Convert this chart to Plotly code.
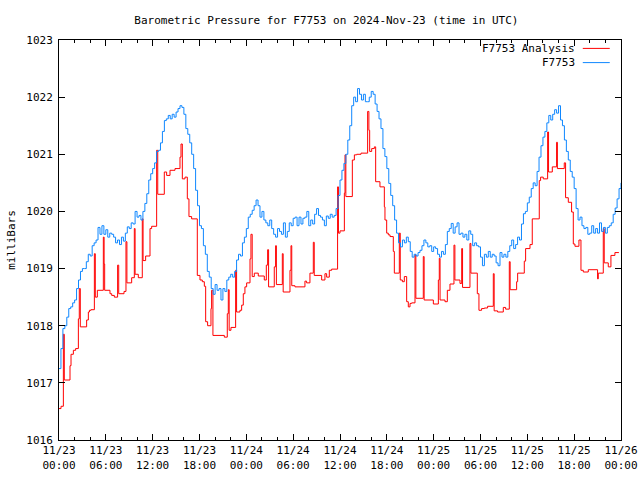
import plotly.graph_objects as go

# ---------------- data ----------------
# hours since 2024-11-23 00:00 UTC, sampled every 15 minutes
blue_hours = [i * 0.25 for i in range(289)]
blue_values = [
    1017.25, 1017.6, 1017.95, 1018.0,
    1018.15, 1018.3, 1018.33, 1018.4,
    1018.45, 1018.65, 1018.8, 1018.95,
    1019.0, 1019.0, 1019.12, 1019.25,
    1019.22, 1019.4, 1019.45, 1019.5,
    1019.72, 1019.6, 1019.75, 1019.6,
    1019.68, 1019.55, 1019.62, 1019.6,
    1019.55, 1019.45, 1019.5, 1019.42,
    1019.55, 1019.48, 1019.62, 1019.73,
    1019.7, 1019.8, 1019.78, 1020.0,
    1019.9, 1019.93, 1019.85, 1020.0,
    1020.14, 1020.31, 1020.55, 1020.66,
    1020.75, 1020.85, 1021.05, 1021.07,
    1021.2, 1021.4, 1021.59, 1021.62,
    1021.68, 1021.62, 1021.7, 1021.65,
    1021.74, 1021.8, 1021.85, 1021.82,
    1021.7, 1021.45, 1021.35, 1021.2,
    1021.0, 1020.75, 1020.37, 1020.1,
    1019.75, 1019.7, 1019.4, 1019.25,
    1018.95, 1018.85, 1018.65, 1018.55,
    1018.72, 1018.62, 1018.65, 1018.45,
    1018.65, 1018.6, 1018.8, 1018.85,
    1018.9, 1018.85, 1018.95, 1019.15,
    1019.25, 1019.22, 1019.45, 1019.55,
    1019.7, 1019.9, 1019.95, 1020.02,
    1020.1, 1020.2, 1020.1, 1019.9,
    1020.0, 1019.85, 1019.8, 1019.75,
    1019.85, 1019.7, 1019.6, 1019.55,
    1019.7, 1019.65, 1019.6, 1019.8,
    1019.55, 1019.65, 1019.8, 1019.75,
    1019.88, 1019.9, 1019.75, 1019.9,
    1019.78, 1019.88, 1019.9, 1020.0,
    1019.75, 1019.85, 1019.78, 1019.95,
    1020.05, 1019.93, 1019.9, 1019.85,
    1019.75, 1019.92, 1019.88, 1019.95,
    1019.9, 1019.93, 1020.05, 1020.28,
    1020.55, 1020.72, 1020.84, 1021.0,
    1021.25, 1021.5, 1021.85, 1022.0,
    1021.92, 1022.15, 1022.05, 1021.95,
    1022.05, 1021.92, 1021.92, 1022.0,
    1022.1, 1022.05, 1021.88, 1021.75,
    1021.62, 1021.45, 1021.1, 1020.96,
    1020.75, 1020.49, 1020.28, 1020.1,
    1019.85, 1019.62, 1019.45, 1019.38,
    1019.5, 1019.45, 1019.55, 1019.47,
    1019.3, 1019.2, 1019.25, 1019.22,
    1019.28, 1019.32, 1019.4, 1019.5,
    1019.45, 1019.38, 1019.4, 1019.3,
    1019.38, 1019.35, 1019.25, 1019.2,
    1019.3, 1019.25, 1019.42, 1019.65,
    1019.7, 1019.79, 1019.62, 1019.73,
    1019.8, 1019.6, 1019.62, 1019.55,
    1019.6, 1019.5, 1019.66, 1019.6,
    1019.4, 1019.45, 1019.4, 1019.38,
    1019.2, 1019.05, 1019.25, 1019.2,
    1019.3, 1019.2, 1019.25, 1019.22,
    1019.1, 1019.05, 1019.28, 1019.2,
    1019.25, 1019.2, 1019.3, 1019.4,
    1019.5, 1019.35, 1019.42, 1019.55,
    1019.5, 1019.78, 1019.96, 1020.0,
    1020.15, 1020.25, 1020.4, 1020.5,
    1020.45, 1020.7, 1020.95, 1021.15,
    1021.3, 1021.4, 1021.55, 1021.68,
    1021.6, 1021.7, 1021.78, 1021.72,
    1021.85, 1021.6, 1021.5, 1021.25,
    1021.05, 1020.9, 1020.7, 1020.6,
    1020.4, 1020.05, 1019.85, 1019.9,
    1019.75, 1019.7, 1019.72, 1019.6,
    1019.62, 1019.75, 1019.62, 1019.7,
    1019.62, 1019.8, 1019.65, 1019.72,
    1019.62, 1019.72, 1019.75, 1019.8,
    1019.95, 1020.06, 1020.22, 1020.4,
    1020.5,
]

red_hours = [
    0.0, 0.26, 0.56, 0.68, 1.41, 1.54, 1.84, 2.13, 2.48, 2.6, 2.73, 3.54, 3.76, 3.9, 4.1,
    4.53, 4.65, 4.91, 5.68, 5.78, 5.85, 6.53, 6.75, 7.09, 7.51, 7.65, 8.33, 8.58, 8.7,
    9.31, 9.65, 9.75, 10.16, 10.67, 10.77, 11.1, 11.66, 11.87, 12.51, 12.65, 13.49,
    13.79, 14.22, 14.86, 15.5, 15.63, 15.8, 16.14, 16.44, 16.65, 16.99, 17.72, 18.06,
    18.36, 18.62, 18.79, 19.04, 19.47, 19.55, 19.72, 21.18, 21.56, 21.69, 21.8, 22.03,
    22.63, 22.75, 23.18, 23.4, 23.61, 23.82, 24.04, 24.47, 24.59, 24.75, 25.02, 25.53,
    26.3, 26.56, 26.73, 26.85, 27.58, 27.75, 27.85, 28.61, 28.72, 29.59, 29.72, 29.82,
    30.23, 31.51, 31.72, 32.15, 32.58, 32.7, 33.65, 34.07, 34.29, 34.63, 34.93, 35.69,
    35.8, 36.0, 36.56, 36.64, 36.75, 37.58, 37.84, 38.14, 38.69, 39.54, 39.7, 39.8,
    40.06, 40.4, 40.57, 41.12, 41.68, 41.76, 41.98, 42.19, 42.41, 42.83, 42.96, 43.6,
    43.72, 43.99, 44.24, 44.54, 44.75, 44.97, 45.18, 45.61, 45.72, 46.67, 46.78, 47.96,
    48.6, 48.72, 48.82, 49.45, 49.75, 50.09, 50.6, 50.72, 51.37, 51.59, 51.7, 52.65,
    52.77, 53.59, 53.8, 54.14, 54.49, 54.91, 55.64, 55.75, 56.19, 56.92, 57.22, 57.69,
    57.8, 58.63, 58.76, 59.61, 59.78, 60.34, 60.63, 61.53, 61.7, 62.04, 62.6, 62.72,
    63.2, 63.75, 63.85, 64.73, 64.9, 65.25, 65.67, 65.89, 66.1, 66.61, 66.87, 67.17,
    67.81, 69.0, 69.09, 69.73, 69.85, 70.37, 70.71, 71.22, 71.73,
]
red_values = [
    1016.55, 1016.59, 1017.85, 1017.05, 1017.3, 1017.5, 1017.57, 1017.6, 1018.12, 1018.65,
    1017.98, 1018.1, 1018.24, 1018.27, 1018.28, 1019.26, 1018.5, 1018.62, 1019.55, 1019.08,
    1018.62, 1018.56, 1018.53, 1018.5, 1019.06, 1018.56, 1018.6, 1019.47, 1018.75, 1018.84,
    1019.7, 1018.9, 1018.84, 1019.87, 1019.14, 1019.22, 1019.7, 1019.74, 1021.07, 1020.3,
    1020.69, 1020.63, 1020.72, 1020.75, 1020.95, 1021.18, 1020.57, 1020.6, 1020.22, 1019.91,
    1019.87, 1018.88, 1018.8, 1018.77, 1018.69, 1018.07, 1018.0, 1018.3, 1018.62, 1017.83,
    1017.8, 1018.21, 1018.63, 1017.92, 1017.97, 1018.97, 1018.24, 1018.27, 1018.36, 1018.56,
    1018.68, 1018.75, 1019.17, 1019.6, 1018.86, 1018.92, 1018.87, 1018.8, 1019.06, 1019.33,
    1018.68, 1019.03, 1019.4, 1018.72, 1019.26, 1018.59, 1018.97, 1019.4, 1018.7, 1018.68,
    1018.78, 1018.75, 1018.92, 1019.46, 1018.88, 1018.8, 1018.91, 1018.85, 1018.97, 1018.99,
    1020.43, 1019.62, 1019.66, 1020.32, 1020.99, 1020.26, 1020.9, 1020.99, 1021.0, 1021.02,
    1021.75, 1021.42, 1021.05, 1021.1, 1021.13, 1020.52, 1020.43, 1020.08, 1019.85, 1019.62,
    1019.59, 1019.56, 1019.3, 1018.92, 1019.62, 1018.8, 1018.77, 1018.86, 1018.42, 1018.33,
    1018.39, 1018.4, 1019.24, 1018.48, 1019.21, 1018.45, 1018.38, 1018.8, 1019.18, 1018.45,
    1018.42, 1018.62, 1018.73, 1019.41, 1018.8, 1018.74, 1019.35, 1018.67, 1019.44, 1018.92,
    1018.56, 1018.27, 1018.3, 1018.31, 1018.34, 1018.91, 1018.26, 1018.24, 1018.32, 1018.29,
    1019.12, 1018.63, 1018.77, 1018.92, 1019.13, 1019.35, 1019.42, 1019.87, 1020.54, 1020.6,
    1020.57, 1021.39, 1020.69, 1020.78, 1021.21, 1020.75, 1020.85, 1020.24, 1020.16, 1019.99,
    1019.43, 1019.39, 1019.5, 1018.97, 1018.94, 1018.98, 1018.82, 1018.92, 1019.7, 1019.1,
    1019.03, 1019.23, 1019.28, 1019.28,
]

x_tick_hours = [0, 6, 12, 18, 24, 30, 36, 42, 48, 54, 60, 66, 72]
x_tick_labels = ["11/23<br>00:00", "11/23<br>06:00", "11/23<br>12:00", "11/23<br>18:00",
                 "11/24<br>00:00", "11/24<br>06:00", "11/24<br>12:00", "11/24<br>18:00",
                 "11/25<br>00:00", "11/25<br>06:00", "11/25<br>12:00", "11/25<br>18:00",
                 "11/26<br>00:00"]
y_ticks = [1016, 1017, 1018, 1019, 1020, 1021, 1022, 1023]

RED = "#ff0000"
BLUE = "#0f87ff"
FONT = "DejaVu Sans Mono"

fig = go.Figure()
fig.add_trace(go.Scatter(x=red_hours, y=red_values, mode="lines",
                         line=dict(color=RED, width=1, shape="hv"),
                         name="F7753 Analysis"))
fig.add_trace(go.Scatter(x=blue_hours, y=blue_values, mode="lines",
                         line=dict(color=BLUE, width=1, shape="hv"),
                         name="F7753"))

# legend drawn gnuplot-style (text, then line sample on the right)
for i, (name, col) in enumerate([("F7753 Analysis", RED), ("F7753", BLUE)]):
    yp = 0.979 - i * 0.0355
    fig.add_annotation(x=0.922, y=yp, xref="paper", yref="paper", text=name,
                       showarrow=False, xanchor="right", yanchor="middle",
                       font=dict(family=FONT, size=11, color="black"))
    fig.add_shape(type="line", xref="paper", yref="paper", x0=0.932, x1=0.980,
                  y0=yp, y1=yp, line=dict(color=col, width=1))

fig.update_layout(
    width=640, height=480,
    margin=dict(l=59, r=19, t=40, b=40, autoexpand=False),
    paper_bgcolor="white", plot_bgcolor="white",
    showlegend=False,
    font=dict(family=FONT, size=11, color="black"),
    title=dict(text="Barometric Pressure for F7753 on 2024-Nov-23 (time in UTC)",
               x=0.51, xref="container", xanchor="center",
               y=0.958, yref="container", yanchor="middle",
               font=dict(family=FONT, size=11, color="black")),
)
fig.update_xaxes(range=[0, 72], tickvals=x_tick_hours, ticktext=x_tick_labels,
                 automargin=False,
                 showgrid=False, zeroline=False, showline=True, linecolor="black",
                 linewidth=1, mirror="allticks", ticks="inside", ticklen=6,
                 tickcolor="black",
                 minor=dict(dtick=2, tick0=0, ticks="inside", ticklen=3,
                            tickcolor="black", showgrid=False),
                 tickfont=dict(family=FONT, size=11))
fig.update_yaxes(range=[1016, 1023], tickvals=y_ticks, automargin=False,
                 ticklabelstandoff=3,
                 showgrid=False, zeroline=False, showline=True, linecolor="black",
                 linewidth=1, mirror="allticks", ticks="inside", ticklen=6,
                 tickcolor="black",
                 title=dict(text="milliBars", standoff=8,
                            font=dict(family=FONT, size=11)),
                 tickfont=dict(family=FONT, size=11))

fig.write_html("out.html", config={"displayModeBar": False},
               post_script="document.body.style.margin='0';"
                           "document.body.style.overflow='hidden';")
